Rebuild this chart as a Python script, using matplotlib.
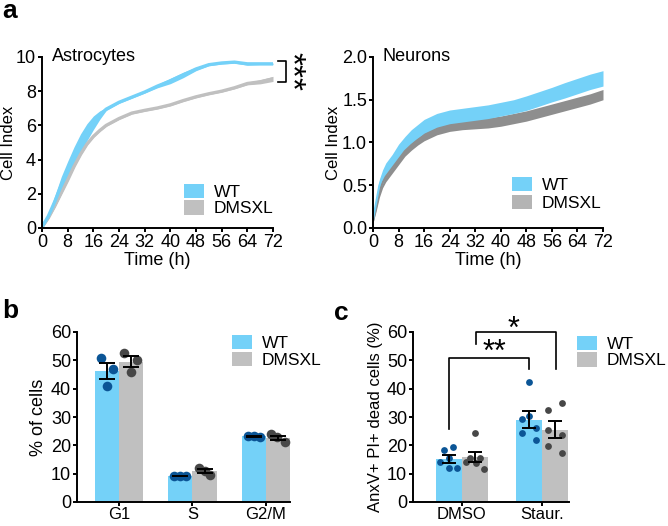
import numpy as np
import matplotlib
matplotlib.use("Agg")
import matplotlib.pyplot as plt
from matplotlib.patches import Patch

plt.rcParams['font.family'] = ['Liberation Sans', 'DejaVu Sans']
plt.rcParams['font.size'] = 13
plt.rcParams['axes.linewidth'] = 1.4
plt.rcParams['xtick.major.width'] = 1.4
plt.rcParams['ytick.major.width'] = 1.4
plt.rcParams['xtick.major.size'] = 2.8
plt.rcParams['ytick.major.size'] = 2.8

# --- colours ---
BLUE = '#74d1f8'
GREY = '#c0c0c0'
DARK_GREY_BAND = '#8e8e8e'
DOT_BLUE = '#0b5596'
DOT_GREY = '#474747'

# --- Panel a: impedance (Cell Index) curves ---
time_h = [0, 2, 4, 6, 8, 10, 12, 14, 16, 18, 20, 24, 28, 32, 36, 40, 44, 48, 52, 56, 60, 64, 68, 72]

astro_wt_mean = [0.05, 0.7, 1.55, 2.5, 3.35, 4.2, 4.95, 5.6, 6.15, 6.6, 6.95, 7.35, 7.65, 7.95, 8.3, 8.6,
                 8.95, 9.3, 9.55, 9.65, 9.7, 9.6, 9.6, 9.6]
astro_wt_sem = [0.05, 0.15, 0.35, 0.5, 0.55, 0.55, 0.55, 0.5, 0.4, 0.25, 0.08, 0.06, 0.06, 0.06, 0.1, 0.16,
                0.16, 0.1, 0.06, 0.06, 0.06, 0.08, 0.05, 0.05]
astro_mut_mean = [0.05, 0.6, 1.3, 2.05, 2.8, 3.6, 4.3, 4.9, 5.35, 5.7, 6.0, 6.4, 6.72, 6.88, 7.02, 7.2,
                  7.45, 7.67, 7.85, 8.0, 8.2, 8.45, 8.55, 8.72]
astro_mut_sem = [0.05, 0.05, 0.05, 0.05, 0.05, 0.05, 0.05, 0.05, 0.05, 0.05, 0.05, 0.05, 0.05, 0.05, 0.05,
                 0.05, 0.05, 0.05, 0.05, 0.05, 0.06, 0.08, 0.12, 0.15]

time_n = [0, 1, 2, 3, 4, 6, 8, 10, 12, 14, 16, 20, 24, 28, 32, 36, 40, 44, 48, 52, 56, 60, 64, 68, 72]
neuron_wt_mean = [0.1, 0.3, 0.5, 0.6, 0.68, 0.78, 0.9, 0.99, 1.07, 1.13, 1.19, 1.26, 1.3, 1.32, 1.34,
                  1.36, 1.39, 1.42, 1.46, 1.51, 1.56, 1.61, 1.66, 1.71, 1.75]
neuron_wt_sem = [0.02, 0.05, 0.07, 0.08, 0.08, 0.08, 0.08, 0.08, 0.08, 0.08, 0.08, 0.08, 0.08, 0.08,
                 0.08, 0.08, 0.08, 0.08, 0.085, 0.085, 0.085, 0.09, 0.09, 0.09, 0.09]
neuron_mut_mean = [0.08, 0.25, 0.42, 0.53, 0.6, 0.7, 0.8, 0.9, 0.97, 1.03, 1.08, 1.15, 1.19, 1.21, 1.22,
                   1.23, 1.25, 1.28, 1.31, 1.35, 1.39, 1.43, 1.47, 1.51, 1.56]
neuron_mut_sem = [0.02, 0.05, 0.06, 0.06, 0.06, 0.06, 0.06, 0.06, 0.06, 0.06, 0.06, 0.06, 0.06, 0.06,
                  0.06, 0.06, 0.06, 0.06, 0.06, 0.06, 0.06, 0.06, 0.06, 0.06, 0.06]

# --- Panel b: cell cycle ---
phases = ['G1', 'S', 'G2/M']
cycle_wt = [[50.9, 46.9, 40.8], [9.3, 9.2, 9.1], [23.2, 23.3, 23.0]]
cycle_mut = [[52.6, 50.1, 46.0], [12.0, 11.1, 9.5], [23.9, 22.8, 21.3]]
cycle_jitter_wt = [[-0.08, 0.08, 0.0], [-0.08, 0.0, 0.08], [-0.08, 0.0, 0.08]]
cycle_jitter_mut = [[-0.09, 0.085, 0.0], [-0.08, 0.0, 0.08], [-0.09, -0.02, 0.095]]

# --- Panel c: apoptosis ---
treatments = ['DMSO', 'Staur.']
death_wt = [[18.2, 19.3, 14.2, 11.9, 11.9, 15.7], [42.3, 30.4, 29.3, 26.2, 24.5, 21.8]]
death_mut = [[24.5, 14.2, 13.9, 11.7, 15.5, 15.6], [35.1, 32.3, 25.4, 23.7, 19.7, 17.2]]
death_jitter_wt = [[-0.06, 0.054, -0.11, 0.0, 0.104, 0.0], [0.0, 0.0, -0.09, 0.085, -0.09, 0.085]]
death_jitter_mut = [[0.0, -0.11, 0.015, 0.115, -0.06, 0.06], [0.08, -0.09, -0.09, 0.08, -0.09, 0.08]]


def sem(vals):
    v = np.asarray(vals, dtype=float)
    return v.std(ddof=1) / np.sqrt(len(v))


def band(ax, t, mean, err, color, lw):
    mean = np.asarray(mean)
    err = np.asarray(err)
    ax.fill_between(t, mean - err, mean + err, color=color, linewidth=0)
    ax.plot(t, mean, color=color, linewidth=lw, solid_capstyle='butt')


def style_axes(ax):
    ax.spines['top'].set_visible(False)
    ax.spines['right'].set_visible(False)
    ax.tick_params(direction='out', labelsize=13, pad=1.5)


fig = plt.figure(figsize=(6.68, 5.26), dpi=100)
W, H = 668.0, 526.0


def axes_px(x0, y0, x1, y1):
    return fig.add_axes([x0 / W, 1 - y1 / H, (x1 - x0) / W, (y1 - y0) / H])


def legend(ax, colors, x_px, y_px, spacing):
    # x_px, y_px: top-left corner of the legend box, in picture pixels
    handles = [Patch(facecolor=colors[0], edgecolor='none', label='WT'),
               Patch(facecolor=colors[1], edgecolor='none', label='DMSXL')]
    ax.legend(handles=handles, loc='upper left', bbox_to_anchor=(x_px / W, 1 - y_px / H),
              bbox_transform=fig.transFigure, frameon=False,
              handlelength=1.15, handleheight=0.9, handletextpad=0.55, labelspacing=spacing,
              borderpad=0, borderaxespad=0, fontsize=12.5)


# ---- a, left: astrocytes ----
ax1 = axes_px(42, 57, 273, 228)
band(ax1, time_h, astro_mut_mean, astro_mut_sem, GREY, 2.4)
band(ax1, time_h, astro_wt_mean, astro_wt_sem, BLUE, 2.4)
ax1.set_xlim(0, 72)
ax1.set_ylim(0, 10)
ax1.set_xticks(np.arange(0, 73, 8))
ax1.set_yticks(np.arange(0, 11, 2))
style_axes(ax1)
ax1.set_xlabel('Time (h)', labelpad=1)
ax1.set_ylabel('Cell Index', fontsize=12, labelpad=0)
ax1.text(3, 10, 'Astrocytes', ha='left', va='center', fontsize=13)
legend(ax1, [BLUE, GREY], 184, 184, 0.0)
# significance bracket
ax1.plot([73.6, 76.1, 76.1, 73.6], [9.77, 9.77, 8.56, 8.56], color='black', lw=1.2, clip_on=False)
ax1.text(77.6, 9.18, '***', rotation=270, ha='center', va='center', fontsize=24, clip_on=False)

# ---- a, right: neurons ----
ax2 = axes_px(373, 57, 603, 228)
band(ax2, time_n, neuron_mut_mean, neuron_mut_sem, DARK_GREY_BAND, 1.5)
band(ax2, time_n, neuron_wt_mean, neuron_wt_sem, BLUE, 1.5)
ax2.set_xlim(0, 72)
ax2.set_ylim(0, 2.0)
ax2.set_xticks(np.arange(0, 73, 8))
ax2.set_yticks([0, 0.5, 1.0, 1.5, 2.0])
ax2.set_yticklabels(['0.0', '0.5', '1.0', '1.5', '2.0'])
style_axes(ax2)
ax2.set_xlabel('Time (h)', labelpad=1)
ax2.set_ylabel('Cell Index', fontsize=12, labelpad=1)
ax2.text(3, 2.0, 'Neurons', ha='left', va='center', fontsize=13)
legend(ax2, [BLUE, '#b4b4b4'], 512, 177, 0.1)

# ---- b: cell cycle ----
ax3 = axes_px(77, 332, 290, 502)
bw = 0.33
xc = np.arange(len(phases))
wt_means = [np.mean(v) for v in cycle_wt]
mut_means = [np.mean(v) for v in cycle_mut]
ax3.bar(xc - bw / 2, wt_means, width=bw, color=BLUE)
ax3.bar(xc + bw / 2, mut_means, width=bw, color=GREY)
for i in range(len(phases)):
    ax3.scatter(xc[i] - bw / 2 + np.array(cycle_jitter_wt[i]), cycle_wt[i], s=48, color=DOT_BLUE,
                zorder=3, linewidths=0)
    ax3.scatter(xc[i] + bw / 2 + np.array(cycle_jitter_mut[i]), cycle_mut[i], s=48, color=DOT_GREY,
                zorder=3, linewidths=0)
    ax3.errorbar(xc[i] - bw / 2, wt_means[i], yerr=sem(cycle_wt[i]), color='black', capsize=6,
                 elinewidth=1.4, capthick=1.4, zorder=4)
    ax3.errorbar(xc[i] + bw / 2, mut_means[i], yerr=sem(cycle_mut[i]), color='black', capsize=6,
                 elinewidth=1.4, capthick=1.4, zorder=4)
ax3.set_xlim(-0.571, 2.327)
ax3.set_ylim(0, 60)
ax3.set_xticks(xc)
ax3.set_xticklabels(phases)
ax3.set_yticks(np.arange(0, 61, 10))
style_axes(ax3)
ax3.tick_params(axis='x', labelsize=12, pad=1)
ax3.set_ylabel('% of cells', fontsize=13, labelpad=3)
legend(ax3, [BLUE, GREY], 232, 335, 0.05)

# ---- c: apoptosis ----
ax4 = axes_px(413, 332, 569, 502)
xc2 = np.arange(len(treatments))
dwt = [np.mean(v) for v in death_wt]
dmut = [np.mean(v) for v in death_mut]
ax4.bar(xc2 - bw / 2, dwt, width=bw, color=BLUE)
ax4.bar(xc2 + bw / 2, dmut, width=bw, color=GREY)
for i in range(len(treatments)):
    ax4.scatter(xc2[i] - bw / 2 + np.array(death_jitter_wt[i]), death_wt[i], s=24, color=DOT_BLUE,
                zorder=3, linewidths=0)
    ax4.scatter(xc2[i] + bw / 2 + np.array(death_jitter_mut[i]), death_mut[i], s=24, color=DOT_GREY,
                zorder=3, linewidths=0)
    ax4.errorbar(xc2[i] - bw / 2, dwt[i], yerr=sem(death_wt[i]), color='black', capsize=5,
                 elinewidth=1.4, capthick=1.4, zorder=4)
    ax4.errorbar(xc2[i] + bw / 2, dmut[i], yerr=sem(death_mut[i]), color='black', capsize=5,
                 elinewidth=1.4, capthick=1.4, zorder=4)
ax4.set_xlim(-0.6125, 1.3375)
ax4.set_ylim(0, 60)
ax4.set_xticks(xc2)
ax4.set_xticklabels(treatments)
ax4.set_yticks(np.arange(0, 61, 10))
style_axes(ax4)
ax4.tick_params(axis='x', labelsize=12, pad=1)
ax4.set_ylabel('AnxV+ PI+ dead cells (%)', fontsize=12, labelpad=3)
legend(ax4, [BLUE, GREY], 577, 336, 0.0)
# significance brackets
ax4.plot([-0.16, -0.16, 0.84, 0.84], [25.7, 51.0, 51.0, 47.0], color='black', lw=1.2, clip_on=False)
ax4.plot([0.17, 0.17, 1.17, 1.17], [55.6, 60.0, 60.0, 47.0], color='black', lw=1.2, clip_on=False)
ax4.text(0.4, 52.5, '**', ha='center', va='center', fontsize=22, clip_on=False)
ax4.text(0.65, 60.8, '*', ha='center', va='center', fontsize=22, clip_on=False)

# panel letters
fig.text(2 / W, 1 + 1 / H, 'a', fontsize=19, fontweight='bold', ha='left', va='top')
fig.text(2 / W, 1 - 299 / H, 'b', fontsize=19, fontweight='bold', ha='left', va='top')
fig.text(334 / W, 1 - 301 / H, 'c', fontsize=19, fontweight='bold', ha='left', va='top')

fig.savefig('out.png', dpi=100)
